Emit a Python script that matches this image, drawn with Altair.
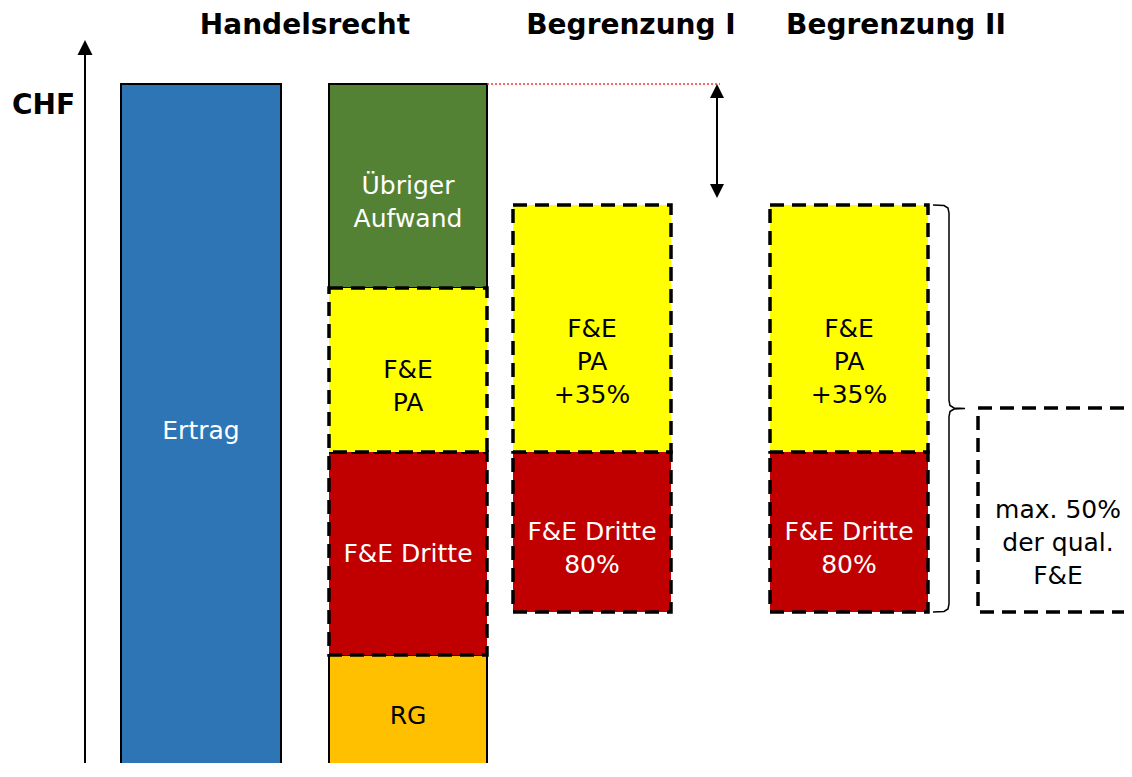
import altair as alt
import pandas as pd

# ---------------- data (schematic CHF amounts) ----------------
ertrag_label = "Ertrag"
ertrag_value = 69.3

hr_segments = ["RG", "F&E Dritte", "F&E PA", "Übriger Aufwand"]
hr_values = [12.2, 20.3, 16.4, 20.4]
hr_labels = ["RG", "F&E Dritte", "F&E\nPA", "Übriger\nAufwand"]
hr_colors = ["#FFC000", "#C00000", "#FFFF00", "#548235"]
hr_text_colors = ["black", "white", "black", "white"]
hr_dashed = [False, True, True, False]

begr_columns = ["Begrenzung I", "Begrenzung II"]
begr_base = 16.5
begr_values = [16.0, 24.7]
begr_labels = ["F&E Dritte\n80%", "F&E\nPA\n+35%"]
begr_colors = ["#C00000", "#FFFF00"]
begr_text_colors = ["white", "black"]

limit_label = "max. 50%\nder qual.\nF&E"
limit_value = 20.4
gap_arrow_bottom = 57.9
axis_top = 73.7
y_max = 76.9

headers = ["Handelsrecht", "Begrenzung I", "Begrenzung II"]

# ---------------- layout (horizontal positions, px) ----------------
W, H = 1116, 755
y_min = y_max - H / 10.0   # bottom of the visible area (bars continue below and are cut)
col_x = {"Ertrag": (113, 273), "Handelsrecht": (321, 479),
         "Begrenzung I": (505, 663), "Begrenzung II": (762, 920)}
header_x = [297, 623, 888]
header_y = 75.1
axis_x = 77
arrow_x = 709
limit_box_x = (970, 1140)
brace_tip_x, brace_spine_x, brace_point_x = 925, 941, 957

FONT = "DejaVu Sans"
X = lambda f: alt.X(f, type="quantitative", scale=alt.Scale(domain=[0, W], nice=False, zero=False), axis=None)
Y = lambda f: alt.Y(f, type="quantitative", scale=alt.Scale(domain=[y_min, y_max], nice=False, zero=False), axis=None)

# ---------------- rectangles ----------------
solid_rows, dashed_rows, text_rows = [], [], []
x0, x1 = col_x["Ertrag"]
solid_rows.append(dict(x=x0, x2=x1, y=0, y2=ertrag_value, fill="#2E75B6"))
text_rows.append(dict(x=(x0 + x1) / 2, y=ertrag_value / 2, t=ertrag_label, c="white"))

x0, x1 = col_x["Handelsrecht"]
cum = 0
for seg, v, lab, col, tc, d in zip(hr_segments, hr_values, hr_labels, hr_colors, hr_text_colors, hr_dashed):
    row = dict(x=x0, x2=x1, y=cum, y2=cum + v, fill=col)
    (dashed_rows if d else solid_rows).append(row)
    text_rows.append(dict(x=(x0 + x1) / 2, y=cum + v / 2, t=lab, c=tc))
    cum += v

for colname in begr_columns:
    x0, x1 = col_x[colname]
    cum = begr_base
    for v, lab, col, tc in zip(begr_values, begr_labels, begr_colors, begr_text_colors):
        dashed_rows.append(dict(x=x0, x2=x1, y=cum, y2=cum + v, fill=col))
        text_rows.append(dict(x=(x0 + x1) / 2, y=cum + v / 2, t=lab, c=tc))
        cum += v

dashed_rows.append(dict(x=limit_box_x[0], x2=limit_box_x[1], y=begr_base,
                        y2=begr_base + limit_value, fill="white"))
text_rows.append(dict(x=1050, y=begr_base + limit_value / 2, t=limit_label, c="black"))

solid = alt.Chart(pd.DataFrame(solid_rows)).mark_rect(stroke="black", strokeWidth=2, clip=True).encode(
    x=X("x"), x2="x2", y=Y("y"), y2="y2", fill=alt.Fill("fill:N", scale=None))
dashed = alt.Chart(pd.DataFrame(dashed_rows)).mark_rect(
    stroke="black", strokeWidth=3.5, strokeDash=[14, 8], clip=True).encode(
    x=X("x"), x2="x2", y=Y("y"), y2="y2", fill=alt.Fill("fill:N", scale=None))

labels = alt.Chart(pd.DataFrame(text_rows)).mark_text(
    font=FONT, fontSize=25, lineBreak="\n", lineHeight=33, baseline="middle", align="center").encode(
    x=X("x"), y=Y("y"), text="t:N", color=alt.Color("c:N", scale=None))

hdr = alt.Chart(pd.DataFrame(dict(x=header_x, y=[header_y] * 3, t=headers))).mark_text(
    font=FONT, fontSize=28, fontWeight="bold", baseline="middle", align="center", color="black").encode(
    x=X("x"), y=Y("y"), text="t:N")
chf = alt.Chart(pd.DataFrame(dict(x=[35.5], y=[67.1], t=["CHF"]))).mark_text(
    font=FONT, fontSize=28, fontWeight="bold", baseline="middle", align="center", color="black").encode(
    x=X("x"), y=Y("y"), text="t:N")

# ---------------- axis with arrow ----------------
axis_line = alt.Chart(pd.DataFrame(dict(x=[axis_x], y=[0], y2=[axis_top - 1.0]))).mark_rule(
    color="black", strokeWidth=2, clip=True).encode(x=X("x"), y=Y("y"), y2="y2")
head_up = "M0,-1 L1,1 L-1,1 Z"
head_down = "M0,1 L1,-1 L-1,-1 Z"
axis_head = alt.Chart(pd.DataFrame(dict(x=[axis_x], y=[axis_top - 0.75]))).mark_point(
    shape=head_up, size=225, filled=True, color="black", opacity=1).encode(x=X("x"), y=Y("y"))

# ---------------- gap annotation ----------------
dotted = alt.Chart(pd.DataFrame(dict(x=[col_x["Handelsrecht"][1]], x2=[arrow_x + 3], y=[ertrag_value]))).mark_rule(
    color="#FF3030", strokeWidth=1.5, strokeDash=[2, 2]).encode(x=X("x"), x2="x2", y=Y("y"))
arrow_line = alt.Chart(pd.DataFrame(dict(x=[arrow_x], y=[gap_arrow_bottom + 1.0], y2=[ertrag_value - 1.0]))).mark_rule(
    color="black", strokeWidth=2).encode(x=X("x"), y=Y("y"), y2="y2")
arrow_top = alt.Chart(pd.DataFrame(dict(x=[arrow_x], y=[ertrag_value - 0.7]))).mark_point(
    shape=head_up, size=196, filled=True, color="black", opacity=1).encode(x=X("x"), y=Y("y"))
arrow_bot = alt.Chart(pd.DataFrame(dict(x=[arrow_x], y=[gap_arrow_bottom + 0.7]))).mark_point(
    shape=head_down, size=196, filled=True, color="black", opacity=1).encode(x=X("x"), y=Y("y"))

# ---------------- brace ----------------
b_top = begr_base + sum(begr_values)
b_bot = begr_base
b_mid = (b_top + b_bot) / 2
tx, sx, px = brace_tip_x, brace_spine_x, brace_point_x
brace_pts = [
    (tx, b_top), (sx - 5, b_top - 0.05), (sx - 1, b_top - 0.3), (sx, b_top - 0.8),
    (sx, b_mid + 0.8), (sx + 1, b_mid + 0.3), (sx + 5, b_mid + 0.05), (px, b_mid),
    (sx + 5, b_mid - 0.05), (sx + 1, b_mid - 0.3), (sx, b_mid - 0.8),
    (sx, b_bot + 0.8), (sx - 1, b_bot + 0.3), (sx - 5, b_bot + 0.05), (tx, b_bot),
]
brace = alt.Chart(pd.DataFrame(dict(x=[p[0] for p in brace_pts], y=[p[1] for p in brace_pts],
                                    o=list(range(len(brace_pts)))))).mark_line(
    color="black", strokeWidth=1.5).encode(x=X("x"), y=Y("y"), order="o:Q")

chart = alt.layer(
    solid, dashed, labels, hdr, chf, axis_line, axis_head,
    dotted, arrow_line, arrow_top, arrow_bot, brace
).properties(
    width=W, height=H, padding=0, autosize=alt.AutoSizeParams(type="none")
).configure_view(stroke=None)

chart.save("out.html", embed_options={"renderer": "svg", "actions": False})
